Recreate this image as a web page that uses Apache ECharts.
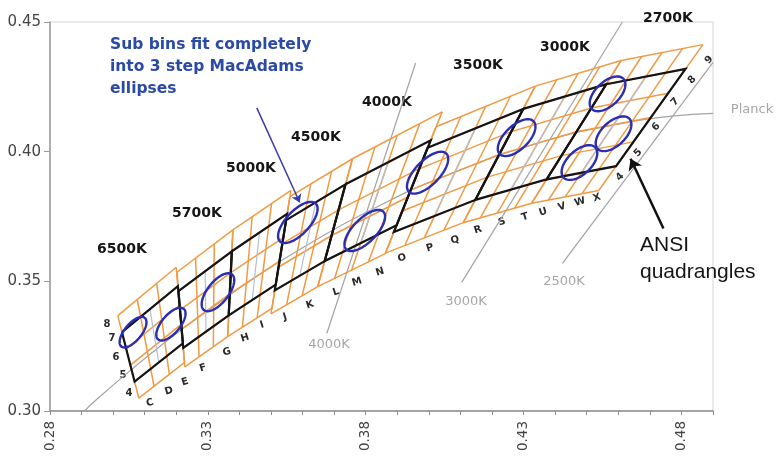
<!DOCTYPE html>
<html>
<head>
<meta charset="utf-8">
<script src="https://cdn.jsdelivr.net/npm/echarts@6/dist/echarts.min.js"></script>
<style>
  html, body { margin: 0; padding: 0; background: #ffffff; }
  #chart { width: 779px; height: 456px; }
</style>
</head>
<body>
<div id="chart"></div>
<script>
// ANSI C78.377 nominal CCT quadrangles, cool end first
const cctNames = ['6500K', '5700K', '5000K', '4500K', '4000K', '3500K', '3000K', '2700K'];
// quadrangle corners in CIE 1931 (x, y)
const quadUL = [[0.3028, 0.3304], [0.3207, 0.3462], [0.3376, 0.3616], [0.3548, 0.3736], [0.3736, 0.3874], [0.3996, 0.4015], [0.4299, 0.4165], [0.4562, 0.4260]];
const quadUR = [[0.3205, 0.3481], [0.3376, 0.3616], [0.3551, 0.3760], [0.3736, 0.3874], [0.4006, 0.4044], [0.4299, 0.4165], [0.4562, 0.4260], [0.4813, 0.4319]];
const quadLR = [[0.3221, 0.3261], [0.3366, 0.3369], [0.3515, 0.3487], [0.3670, 0.3578], [0.3898, 0.3716], [0.4147, 0.3814], [0.4373, 0.3893], [0.4593, 0.3944]];
const quadLL = [[0.3068, 0.3113], [0.3222, 0.3243], [0.3366, 0.3369], [0.3512, 0.3465], [0.3670, 0.3578], [0.3889, 0.3690], [0.4147, 0.3814], [0.4373, 0.3893]];
// sub-bins per quadrangle (columns across CCT, rows across Duv inside the quadrangle)
const subCols = [3, 3, 3, 3, 4, 4, 4, 4];
const subRows = [3, 3, 3, 3, 3, 4, 4, 4];

// 3-step MacAdam ellipses: centre, semi-axes, tilt (deg)
const ellipseX = [0.3063, 0.3183, 0.3332, 0.3585, 0.3797, 0.3996, 0.4278, 0.4566, 0.4585, 0.4477];
const ellipseY = [0.3304, 0.3335, 0.3458, 0.3727, 0.3696, 0.3919, 0.4054, 0.4223, 0.4069, 0.3958];
const ellipseA = [0.00669, 0.0072, 0.00822, 0.0093, 0.00939, 0.00951, 0.00834, 0.00774, 0.00774, 0.00774];
const ellipseB = [0.00285, 0.0031, 0.00354, 0.0040, 0.00402, 0.00417, 0.00408, 0.00411, 0.00411, 0.00411];
const ellipseTheta = [58.57, 58.0, 59.62, 55.0, 53.72, 54.0, 53.22, 53.7, 53.7, 53.7];

// Planckian locus (x, y)
const planckX = [0.2909, 0.2951, 0.3064, 0.3135, 0.3221, 0.3325, 0.3451, 0.3608, 0.3805, 0.4053, 0.4369, 0.4599, 0.4770, 0.4900];
const planckY = [0.3000, 0.3048, 0.3166, 0.3236, 0.3318, 0.3408, 0.3516, 0.3635, 0.3768, 0.3907, 0.4041, 0.4106, 0.4137, 0.4148];

// labelled isotherms: start and end points
const isoNames = ['4000K', '3000K', '2500K'];
const isoStart = [[0.3677, 0.3300], [0.4104, 0.3496], [0.4423, 0.3569]];
const isoEnd = [[0.3958, 0.4342], [0.4613, 0.4500], [0.4900, 0.4344]];

// annotation arrows (tail, head)
const noteArrowTail = [0.3455, 0.4169];
const noteArrowHead = [0.3591, 0.3804];
const ansiArrowTail = [0.4743, 0.3704];
const ansiArrowHead = [0.4639, 0.3973];

// axis ticks
const xMin = 0.28, xMax = 0.49, xStep = 0.01;
const yMin = 0.30, yMax = 0.45, yStep = 0.05;
const xTickLabels = ['0.28', '0.33', '0.38', '0.43', '0.48'];

// sub-bin labels
const colLetters = ['C','D','E','F','G','H','I','J','K','L','M','N','O','P','Q','R','S','T','U','V','W','X'];
const rowNumbersLeft = ['8','7','6','5','4'];
const rowNumbersRight = ['4','5','6','7','8','9'];

// ---------- geometry helpers ----------
function lerp(p, q, t) { return [p[0] + (q[0] - p[0]) * t, p[1] + (q[1] - p[1]) * t]; }
function patchPoint(i, u, v) {
  const top = lerp(quadUL[i], quadUR[i], u);
  const bot = lerp(quadLL[i], quadLR[i], u);
  return lerp(top, bot, v);
}

// sub-bin mesh: one extra row above and below each quadrangle
const subBinLines = [];
const centreLines = [];
cctNames.forEach((name, i) => {
  const nc = subCols[i], nr = subRows[i];
  const v0 = -1 / nr, v1 = 1 + 1 / nr;
  for (let c = 0; c <= nc; c++) {
    subBinLines.push({ coords: [patchPoint(i, c / nc, v0), patchPoint(i, c / nc, v1)] });
  }
  for (let r = -1; r <= nr + 1; r++) {
    subBinLines.push({ coords: [patchPoint(i, 0, r / nr), patchPoint(i, 1, r / nr)] });
  }
  centreLines.push({ coords: [patchPoint(i, 0.5, 0), patchPoint(i, 0.5, 1)] });
});
const quadOutlines = cctNames.map((n, i) => ({ coords: [quadUL[i], quadUR[i], quadLR[i], quadLL[i], quadUL[i]] }));
const isoLines = isoNames.map((n, i) => ({ coords: [isoStart[i], isoEnd[i]] }));
const planckData = planckX.map((x, i) => [x, planckY[i]]);
const ellipseData = ellipseX.map((x, i) => [x, ellipseY[i], ellipseA[i], ellipseB[i], ellipseTheta[i]]);

// ---------- text layout (pixels) ----------
const cctLabelPos = [[122, 249], [197, 213], [251, 168], [316, 137], [387, 102], [478, 65], [565, 47], [668, 18]];
const isoLabelPos = [[329, 345], [466, 302], [564, 282]];
const letterPos = [[150,403],[169,391],[185,382],[203,368],[227,352],[245,338],[262,325],[285,317],[310,305],[336,292],[357,282],[380,272],[402,258],[430,248],[455,240],[478,230],[502,222],[525,217],[543,212],[562,207],[580,202],[597,198]];
const leftNumPos = [[107,324],[112,338],[116,357],[123,375],[129,393]];
const rightNumPos = [[620,177],[638,153],[656,127],[675,102],[692,80],[709,60]];

const graphics = [];
cctNames.forEach((t, i) => graphics.push({
  type: 'text', x: cctLabelPos[i][0], y: cctLabelPos[i][1], silent: true,
  style: { text: t, fill: '#151515', font: 'bold 14px "DejaVu Sans"', align: 'center', verticalAlign: 'middle' }
}));
isoNames.forEach((t, i) => graphics.push({
  type: 'text', x: isoLabelPos[i][0], y: isoLabelPos[i][1], silent: true,
  style: { text: t, fill: '#a6a6a6', font: '13px "DejaVu Sans"', align: 'center', verticalAlign: 'middle' }
}));
colLetters.forEach((t, i) => graphics.push({
  type: 'text', x: letterPos[i][0], y: letterPos[i][1], rotation: 0.3, silent: true,
  style: { text: t, fill: '#2a2a2a', font: 'bold 10px "DejaVu Sans"', align: 'center', verticalAlign: 'middle' }
}));
rowNumbersLeft.forEach((t, i) => graphics.push({
  type: 'text', x: leftNumPos[i][0], y: leftNumPos[i][1], silent: true,
  style: { text: t, fill: '#2a2a2a', font: 'bold 10px "DejaVu Sans"', align: 'center', verticalAlign: 'middle' }
}));
rowNumbersRight.forEach((t, i) => graphics.push({
  type: 'text', x: rightNumPos[i][0], y: rightNumPos[i][1], rotation: 0.8, silent: true,
  style: { text: t, fill: '#2a2a2a', font: 'bold 10px "DejaVu Sans"', align: 'center', verticalAlign: 'middle' }
}));
['Sub bins fit completely', 'into 3 step MacAdams', 'ellipses'].forEach((t, i) => graphics.push({
  type: 'text', x: 110, y: 45 + i * 22, silent: true,
  style: { text: t, fill: '#2b4aa6', font: 'bold 15.5px "DejaVu Sans"', align: 'left', verticalAlign: 'middle' }
}));
['ANSI', 'quadrangles'].forEach((t, i) => graphics.push({
  type: 'text', x: 640, y: 245 + i * 27, silent: true,
  style: { text: t, fill: '#151515', font: '21px "Liberation Sans"', align: 'left', verticalAlign: 'middle' }
}));
graphics.push({
  type: 'text', x: 752, y: 110, silent: true,
  style: { text: 'Planck', fill: '#a6a6a6', font: '13px "DejaVu Sans"', align: 'center', verticalAlign: 'middle' }
});

// ---------- chart ----------
const chart = echarts.init(document.getElementById('chart'), null, { renderer: 'canvas' });
chart.setOption({
  animation: false,
  backgroundColor: '#ffffff',
  grid: { left: 50, right: 66, top: 22, bottom: 45, show: true, borderColor: '#d4d4d4', borderWidth: 1 },
  xAxis: {
    type: 'value', min: xMin, max: xMax, interval: xStep,
    splitLine: { show: false },
    axisLine: { lineStyle: { color: '#8c8c8c', width: 1.5 } },
    axisTick: { length: 4, lineStyle: { color: '#8c8c8c' } },
    axisLabel: {
      rotate: 90, margin: 10, color: '#444', fontSize: 13.5, fontFamily: 'DejaVu Sans',
      formatter: v => {
        const s = v.toFixed(2);
        return xTickLabels.indexOf(s) >= 0 ? s : '';
      }
    }
  },
  yAxis: {
    type: 'value', min: yMin, max: yMax, interval: yStep,
    splitLine: { show: false },
    axisLine: { show: true, lineStyle: { color: '#9a9a9a', width: 1.5 } },
    axisTick: { show: true, length: 6, lineStyle: { color: '#9a9a9a' } },
    axisLabel: { margin: 9, color: '#444', fontSize: 15, fontFamily: 'DejaVu Sans', formatter: v => v.toFixed(2) }
  },
  graphic: graphics,
  series: [
    {
      name: 'Planck', type: 'line', data: planckData, smooth: true, showSymbol: false, silent: true, z: 1,
      lineStyle: { color: '#a3a3a3', width: 1.2 }
    },
    {
      name: 'isotherms', type: 'lines', coordinateSystem: 'cartesian2d', data: isoLines, silent: true, z: 1,
      lineStyle: { color: '#a3a3a3', width: 1.2, opacity: 1 }
    },
    {
      name: 'sub bins', type: 'lines', coordinateSystem: 'cartesian2d', data: subBinLines, silent: true, z: 2,
      lineStyle: { color: '#f09a44', width: 1.5, opacity: 1 }
    },
    {
      name: 'nominal CCT', type: 'lines', coordinateSystem: 'cartesian2d', data: centreLines, silent: true, z: 3,
      lineStyle: { color: '#b3bfd3', width: 1.2, opacity: 1 }
    },
    {
      name: 'ANSI quadrangles', type: 'lines', coordinateSystem: 'cartesian2d', polyline: true, data: quadOutlines, silent: true, z: 4,
      lineStyle: { color: '#141414', width: 2.2, opacity: 1 }
    },
    {
      name: 'MacAdam ellipses', type: 'custom', coordinateSystem: 'cartesian2d', data: ellipseData, silent: true, z: 5,
      encode: { x: 0, y: 1 },
      renderItem: (params, api) => {
        const cx = api.value(0), cy = api.value(1), a = api.value(2), b = api.value(3);
        const th = api.value(4) * Math.PI / 180;
        const pts = [];
        for (let k = 0; k < 90; k++) {
          const t = k / 90 * 2 * Math.PI;
          const dx = a * Math.cos(t), dy = b * Math.sin(t);
          pts.push(api.coord([cx + dx * Math.cos(th) - dy * Math.sin(th), cy + dx * Math.sin(th) + dy * Math.cos(th)]));
        }
        return { type: 'polygon', shape: { points: pts }, style: { fill: 'none', stroke: '#2b2db3', lineWidth: 2.4 } };
      }
    },
    {
      name: 'note arrow', type: 'lines', coordinateSystem: 'cartesian2d', silent: true, z: 6,
      symbol: ['none', 'arrow'], symbolSize: 8,
      data: [{ coords: [noteArrowTail, noteArrowHead] }],
      lineStyle: { color: '#3a3ca6', width: 1.5, opacity: 1 }
    },
    {
      name: 'ansi arrow', type: 'lines', coordinateSystem: 'cartesian2d', silent: true, z: 6,
      symbol: ['none', 'arrow'], symbolSize: 11,
      data: [{ coords: [ansiArrowTail, ansiArrowHead] }],
      lineStyle: { color: '#111111', width: 2.5, opacity: 1 }
    }
  ]
});
</script>
</body>
</html>
